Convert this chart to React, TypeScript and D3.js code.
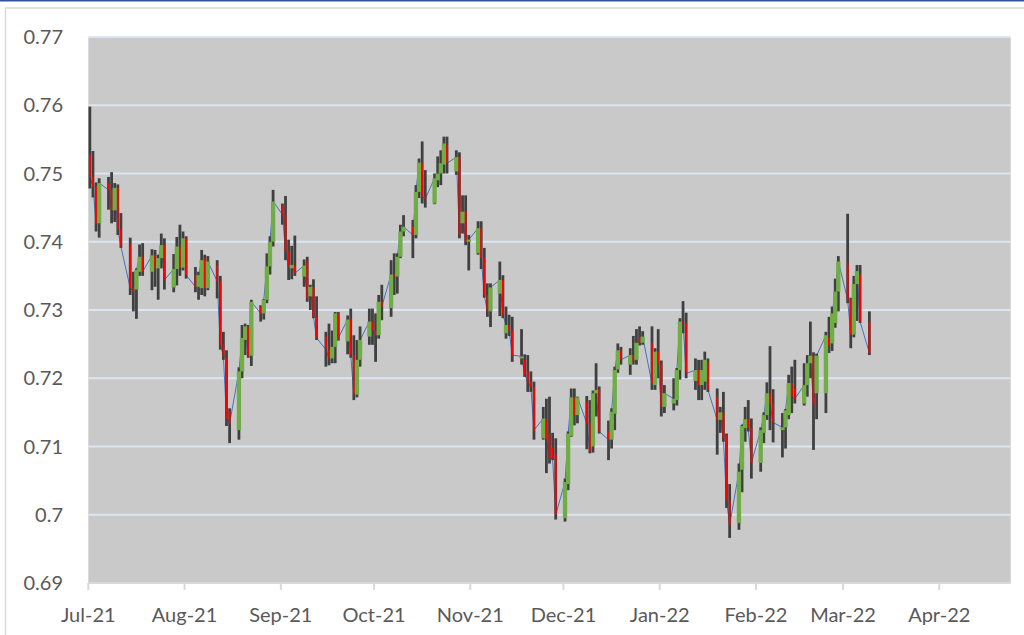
import * as React from 'react';
import * as d3 from 'd3';

// daily trading dates (AUD/USD style OHLC)
const dates: string[] = [
	'2021-07-06', '2021-07-07', '2021-07-08', '2021-07-09', '2021-07-12', '2021-07-13', '2021-07-14', '2021-07-15', '2021-07-16',
	'2021-07-19', '2021-07-20', '2021-07-21', '2021-07-22', '2021-07-23', '2021-07-26', '2021-07-27', '2021-07-28', '2021-07-29', '2021-07-30',
	'2021-08-02', '2021-08-03', '2021-08-04', '2021-08-05', '2021-08-06', '2021-08-09', '2021-08-10', '2021-08-11', '2021-08-12', '2021-08-13',
	'2021-08-16', '2021-08-17', '2021-08-18', '2021-08-19', '2021-08-20', '2021-08-23', '2021-08-24', '2021-08-25', '2021-08-26', '2021-08-27',
	'2021-08-30', '2021-08-31',
	'2021-09-01', '2021-09-02', '2021-09-03', '2021-09-06', '2021-09-07', '2021-09-08', '2021-09-09', '2021-09-10', '2021-09-13', '2021-09-14',
	'2021-09-15', '2021-09-16', '2021-09-17', '2021-09-20', '2021-09-21', '2021-09-22', '2021-09-23', '2021-09-24', '2021-09-27', '2021-09-28',
	'2021-09-29', '2021-09-30',
	'2021-10-01', '2021-10-04', '2021-10-05', '2021-10-06', '2021-10-07', '2021-10-08', '2021-10-11', '2021-10-12', '2021-10-13', '2021-10-14',
	'2021-10-15', '2021-10-18', '2021-10-19', '2021-10-20', '2021-10-21', '2021-10-22', '2021-10-25', '2021-10-26', '2021-10-27', '2021-10-28',
	'2021-10-29',
	'2021-11-01', '2021-11-02', '2021-11-03', '2021-11-04', '2021-11-05', '2021-11-08', '2021-11-09', '2021-11-10', '2021-11-11', '2021-11-12',
	'2021-11-15', '2021-11-16', '2021-11-17', '2021-11-18', '2021-11-19', '2021-11-22', '2021-11-23', '2021-11-24', '2021-11-25', '2021-11-26',
	'2021-11-29', '2021-11-30',
	'2021-12-01', '2021-12-02', '2021-12-03', '2021-12-06', '2021-12-07', '2021-12-08', '2021-12-09', '2021-12-10', '2021-12-13', '2021-12-14',
	'2021-12-15', '2021-12-16', '2021-12-17', '2021-12-20', '2021-12-21', '2021-12-22', '2021-12-23', '2021-12-24', '2021-12-27', '2021-12-28',
	'2021-12-29', '2021-12-30', '2021-12-31',
	'2022-01-03', '2022-01-04', '2022-01-05', '2022-01-06', '2022-01-07', '2022-01-10', '2022-01-11', '2022-01-12', '2022-01-13', '2022-01-14',
	'2022-01-17', '2022-01-18', '2022-01-19', '2022-01-20', '2022-01-21', '2022-01-24', '2022-01-25', '2022-01-26', '2022-01-27', '2022-01-28',
	'2022-01-31',
	'2022-02-01', '2022-02-02', '2022-02-03', '2022-02-04', '2022-02-07', '2022-02-08', '2022-02-09', '2022-02-10', '2022-02-11', '2022-02-14',
	'2022-02-15', '2022-02-16', '2022-02-17', '2022-02-18', '2022-02-21', '2022-02-22', '2022-02-23', '2022-02-24', '2022-02-25', '2022-02-28',
	'2022-03-01', '2022-03-02', '2022-03-03', '2022-03-04', '2022-03-07', '2022-03-08', '2022-03-09', '2022-03-10', '2022-03-11', '2022-03-14'
];

const open: number[] = [
	0.7527, 0.7495, 0.7481, 0.7427, 0.7486, 0.7476, 0.7446, 0.7479, 0.7418,
	0.7396, 0.7332, 0.7330, 0.7356, 0.7378, 0.7356, 0.7380, 0.7361, 0.7376, 0.7395,
	0.7333, 0.7360, 0.7393, 0.7362, 0.7405, 0.7351, 0.7334, 0.7332, 0.7376, 0.7332,
	0.7366, 0.7342, 0.7249, 0.7230, 0.7152, 0.7124, 0.7210, 0.7256, 0.7275, 0.7233,
	0.7305, 0.7295,
	0.7315, 0.7364, 0.7400, 0.7453, 0.7440, 0.7386, 0.7361, 0.7365, 0.7349, 0.7372,
	0.7320, 0.7332, 0.7290, 0.7261, 0.7242, 0.7229, 0.7246, 0.7295, 0.7254, 0.7287,
	0.7234, 0.7176,
	0.7227, 0.7261, 0.7283, 0.7270, 0.7263, 0.7312, 0.7303, 0.7352, 0.7349, 0.7378,
	0.7415, 0.7422, 0.7410, 0.7473, 0.7515, 0.7466, 0.7456, 0.7490, 0.7500, 0.7513,
	0.7542,
	0.7503, 0.7524, 0.7427, 0.7445, 0.7400, 0.7383, 0.7420, 0.7376, 0.7322, 0.7298,
	0.7324, 0.7344, 0.7266, 0.7278, 0.7270, 0.7229, 0.7227, 0.7210, 0.7195, 0.7187,
	0.7112, 0.7139,
	0.7116, 0.7098, 0.7088, 0.6995, 0.7045, 0.7115, 0.7171, 0.7146, 0.7166, 0.7134,
	0.7100, 0.7178, 0.7184, 0.7122, 0.7110, 0.7148, 0.7213, 0.7241, 0.7220, 0.7234,
	0.7227, 0.7260, 0.7252,
	0.7251, 0.7190, 0.7239, 0.7220, 0.7158, 0.7163, 0.7168, 0.7212, 0.7283, 0.7281,
	0.7196, 0.7212, 0.7190, 0.7195, 0.7224, 0.7173, 0.7139, 0.7149, 0.7117, 0.7021,
	0.6988,
	0.7066, 0.7127, 0.7140, 0.7127, 0.7076, 0.7120, 0.7146, 0.7178, 0.7163, 0.7124,
	0.7128, 0.7146, 0.7193, 0.7185, 0.7163, 0.7190, 0.7222, 0.7233, 0.7178, 0.7178,
	0.7260, 0.7251, 0.7281, 0.7327, 0.7368, 0.7315, 0.7264, 0.7338, 0.7352, 0.7283
];

const high: number[] = [
	0.7598, 0.7533, 0.7487, 0.7493, 0.7495, 0.7502, 0.7486, 0.7484, 0.7442,
	0.7406, 0.7356, 0.7361, 0.7396, 0.7398, 0.7389, 0.7388, 0.7381, 0.7412, 0.7405,
	0.7382, 0.7407, 0.7425, 0.7415, 0.7408, 0.7363, 0.7356, 0.7388, 0.7381, 0.7379,
	0.7373, 0.7350, 0.7268, 0.7241, 0.7156, 0.7216, 0.7278, 0.7280, 0.7278, 0.7315,
	0.7307, 0.7316,
	0.7383, 0.7408, 0.7476, 0.7456, 0.7467, 0.7403, 0.7394, 0.7409, 0.7374, 0.7378,
	0.7337, 0.7345, 0.7320, 0.7268, 0.7280, 0.7270, 0.7297, 0.7297, 0.7292, 0.7302,
	0.7263, 0.7256,
	0.7276, 0.7302, 0.7302, 0.7295, 0.7322, 0.7337, 0.7373, 0.7383, 0.7383, 0.7425,
	0.7439, 0.7432, 0.7483, 0.7522, 0.7547, 0.7505, 0.7500, 0.7525, 0.7534, 0.7554,
	0.7554,
	0.7534, 0.7531, 0.7468, 0.7468, 0.7410, 0.7430, 0.7430, 0.7391, 0.7339, 0.7339,
	0.7371, 0.7351, 0.7305, 0.7293, 0.7290, 0.7272, 0.7235, 0.7234, 0.7210, 0.7195,
	0.7158, 0.7170,
	0.7173, 0.7120, 0.7112, 0.7053, 0.7122, 0.7185, 0.7185, 0.7173, 0.7174, 0.7168,
	0.7182, 0.7222, 0.7188, 0.7138, 0.7156, 0.7217, 0.7251, 0.7246, 0.7244, 0.7262,
	0.7272, 0.7276, 0.7269,
	0.7276, 0.7244, 0.7272, 0.7226, 0.7190, 0.7200, 0.7215, 0.7288, 0.7313, 0.7296,
	0.7229, 0.7227, 0.7227, 0.7239, 0.7229, 0.7185, 0.7158, 0.7180, 0.7119, 0.7045,
	0.7075,
	0.7132, 0.7158, 0.7168, 0.7141, 0.7128, 0.7150, 0.7194, 0.7247, 0.7184, 0.7149,
	0.7155, 0.7205, 0.7217, 0.7227, 0.7222, 0.7234, 0.7283, 0.7238, 0.7236, 0.7268,
	0.7290, 0.7305, 0.7346, 0.7379, 0.7441, 0.7318, 0.7350, 0.7366, 0.7366, 0.7298
];

const low: number[] = [
	0.7478, 0.7465, 0.7415, 0.7406, 0.7447, 0.7427, 0.7429, 0.7410, 0.7391,
	0.7322, 0.7298, 0.7287, 0.7350, 0.7350, 0.7329, 0.7334, 0.7315, 0.7361, 0.7330,
	0.7326, 0.7336, 0.7350, 0.7358, 0.7346, 0.7326, 0.7315, 0.7322, 0.7320, 0.7329,
	0.7317, 0.7242, 0.7227, 0.7130, 0.7105, 0.7110, 0.7200, 0.7234, 0.7230, 0.7218,
	0.7283, 0.7286,
	0.7310, 0.7352, 0.7393, 0.7425, 0.7373, 0.7344, 0.7345, 0.7350, 0.7334, 0.7312,
	0.7300, 0.7288, 0.7256, 0.7217, 0.7219, 0.7222, 0.7222, 0.7255, 0.7235, 0.7230,
	0.7168, 0.7172,
	0.7217, 0.7249, 0.7249, 0.7224, 0.7258, 0.7285, 0.7290, 0.7322, 0.7324, 0.7376,
	0.7408, 0.7376, 0.7405, 0.7464, 0.7456, 0.7450, 0.7455, 0.7480, 0.7483, 0.7500,
	0.7500,
	0.7498, 0.7405, 0.7412, 0.7395, 0.7358, 0.7381, 0.7360, 0.7318, 0.7290, 0.7275,
	0.7291, 0.7288, 0.7258, 0.7262, 0.7224, 0.7220, 0.7202, 0.7180, 0.7180, 0.7110,
	0.7110, 0.7061,
	0.7075, 0.7080, 0.6993, 0.6990, 0.7036, 0.7114, 0.7131, 0.7134, 0.7096, 0.7090,
	0.7091, 0.7144, 0.7119, 0.7080, 0.7097, 0.7124, 0.7208, 0.7220, 0.7205, 0.7220,
	0.7220, 0.7248, 0.7249,
	0.7183, 0.7183, 0.7200, 0.7144, 0.7149, 0.7153, 0.7160, 0.7198, 0.7266, 0.7200,
	0.7183, 0.7168, 0.7168, 0.7183, 0.7180, 0.7088, 0.7120, 0.7107, 0.7010, 0.6966,
	0.6978,
	0.7033, 0.7107, 0.7122, 0.7053, 0.7063, 0.7105, 0.7139, 0.7124, 0.7106, 0.7084,
	0.7097, 0.7140, 0.7149, 0.7163, 0.7160, 0.7173, 0.7200, 0.7095, 0.7140, 0.7149,
	0.7237, 0.7240, 0.7274, 0.7298, 0.7310, 0.7244, 0.7260, 0.7284, 0.7281, 0.7234
];

const close: number[] = [
	0.7495, 0.7481, 0.7427, 0.7486, 0.7476, 0.7446, 0.7479, 0.7418, 0.7393,
	0.7332, 0.7328, 0.7359, 0.7378, 0.7356, 0.7380, 0.7361, 0.7376, 0.7395, 0.7344,
	0.7360, 0.7393, 0.7362, 0.7405, 0.7351, 0.7334, 0.7351, 0.7373, 0.7332, 0.7371,
	0.7342, 0.7249, 0.7232, 0.7141, 0.7134, 0.7210, 0.7259, 0.7276, 0.7232, 0.7312,
	0.7295, 0.7315,
	0.7364, 0.7400, 0.7459, 0.7440, 0.7386, 0.7364, 0.7366, 0.7354, 0.7365, 0.7317,
	0.7334, 0.7290, 0.7259, 0.7242, 0.7229, 0.7246, 0.7295, 0.7259, 0.7286, 0.7234,
	0.7176, 0.7227,
	0.7256, 0.7283, 0.7270, 0.7263, 0.7312, 0.7305, 0.7352, 0.7349, 0.7378, 0.7415,
	0.7422, 0.7410, 0.7473, 0.7516, 0.7466, 0.7463, 0.7493, 0.7500, 0.7515, 0.7544,
	0.7515,
	0.7524, 0.7410, 0.7444, 0.7400, 0.7403, 0.7420, 0.7376, 0.7322, 0.7298, 0.7333,
	0.7344, 0.7293, 0.7278, 0.7270, 0.7234, 0.7232, 0.7205, 0.7195, 0.7187, 0.7124,
	0.7141, 0.7110,
	0.7083, 0.7082, 0.7000, 0.7048, 0.7119, 0.7172, 0.7146, 0.7172, 0.7134, 0.7093,
	0.7178, 0.7183, 0.7122, 0.7110, 0.7151, 0.7212, 0.7241, 0.7227, 0.7234, 0.7225,
	0.7252, 0.7252, 0.7261,
	0.7192, 0.7239, 0.7220, 0.7158, 0.7178, 0.7170, 0.7212, 0.7283, 0.7281, 0.7207,
	0.7212, 0.7190, 0.7212, 0.7227, 0.7183, 0.7139, 0.7150, 0.7112, 0.7021, 0.6985,
	0.7063,
	0.7130, 0.7140, 0.7127, 0.7076, 0.7124, 0.7146, 0.7178, 0.7163, 0.7135, 0.7128,
	0.7153, 0.7193, 0.7173, 0.7170, 0.7190, 0.7222, 0.7233, 0.7161, 0.7233, 0.7263,
	0.7247, 0.7295, 0.7327, 0.7371, 0.7315, 0.7264, 0.7338, 0.7357, 0.7283, 0.7237
];

const tickDates: string[] = [
	'2021-07-06', '2021-08-06', '2021-09-06', '2021-10-06', '2021-11-06',
	'2021-12-06', '2022-01-06', '2022-02-06', '2022-03-06', '2022-04-06'
];

const yTicks: number[] = [0.69, 0.7, 0.71, 0.72, 0.73, 0.74, 0.75, 0.76, 0.77];

const parse = d3.utcParse('%Y-%m-%d');
const fmt = d3.utcFormat('%b-%y');

export default function App() {
	const left = 88.3;
	const right = 1010.7;
	const top = 37;
	const bottom = 583;

	const x = d3
		.scaleUtc()
		.domain([parse('2021-07-06') as Date, parse('2022-04-29') as Date])
		.range([left, right]);
	const y = d3.scaleLinear().domain([0.69, 0.77]).range([bottom, top]);

	const day = x(parse('2021-07-07') as Date) - x(parse('2021-07-06') as Date);
	const cx = (i: number) => x(parse(dates[i]) as Date) + day / 2;

	const closeLine = d3
		.line<number>()
		.x((d, i) => cx(i))
		.y((d) => y(d));

	const font = 'Lato, Calibri, Carlito, sans-serif';

	return (
		<svg width={1024} height={635} style={{ position: 'absolute', left: 0, top: 0 }}>
			<rect x={0} y={0} width={1024} height={635} fill="#ffffff" />
			<rect x={0} y={0} width={1024} height={1.5} fill="#2f5597" />
			<rect x={5.5} y={8} width={1030} height={640} fill="#ffffff" stroke="#d9d9d9" strokeWidth={1.5} />

			<rect x={left} y={top} width={right - left} height={bottom - top} fill="#c9c9c9" />

			{yTicks.slice(1).map((t) => (
				<line key={t} x1={left} x2={right} y1={y(t)} y2={y(t)} stroke="#dce5f2" strokeWidth={2} />
			))}
			<line x1={left} x2={right} y1={bottom} y2={bottom} stroke="#d9d9d9" strokeWidth={2} />
			{tickDates.map((t) => {
				const tx = x(parse(t) as Date);
				return <line key={t} x1={tx} x2={tx} y1={bottom} y2={bottom + 7} stroke="#d9d9d9" strokeWidth={2} />;
			})}

			<path d={closeLine(close) || ''} fill="none" stroke="#4472c4" strokeWidth={1} />

			{dates.map((d, i) => (
				<line
					key={'hl' + d}
					x1={cx(i)}
					x2={cx(i)}
					y1={y(high[i])}
					y2={y(low[i])}
					stroke="#404040"
					strokeWidth={2.8}
				/>
			))}
			{dates.map((d, i) => {
				const up = close[i] >= open[i];
				const w = up ? 4.3 : 1.8;
				const y0 = y(Math.max(open[i], close[i]));
				const h = Math.max(1, Math.abs(y(open[i]) - y(close[i])));
				return (
					<rect
						key={'b' + d}
						x={cx(i) - w / 2}
						y={y0}
						width={w}
						height={h}
						fill={up ? '#70ad47' : '#ff0000'}
					/>
				);
			})}

			{yTicks.map((t) => (
				<text key={'yl' + t} x={63} y={y(t)} dy="0.35em" textAnchor="end" fontFamily={font} fontSize={20} fill="#595959">
					{String(t)}
				</text>
			))}
			{tickDates.map((t) => (
				<text
					key={'xl' + t}
					x={x(parse(t) as Date)}
					y={622}
					textAnchor="middle"
					fontFamily={font}
					fontSize={20}
					fill="#595959"
				>
					{fmt(parse(t) as Date)}
				</text>
			))}
		</svg>
	);
}
